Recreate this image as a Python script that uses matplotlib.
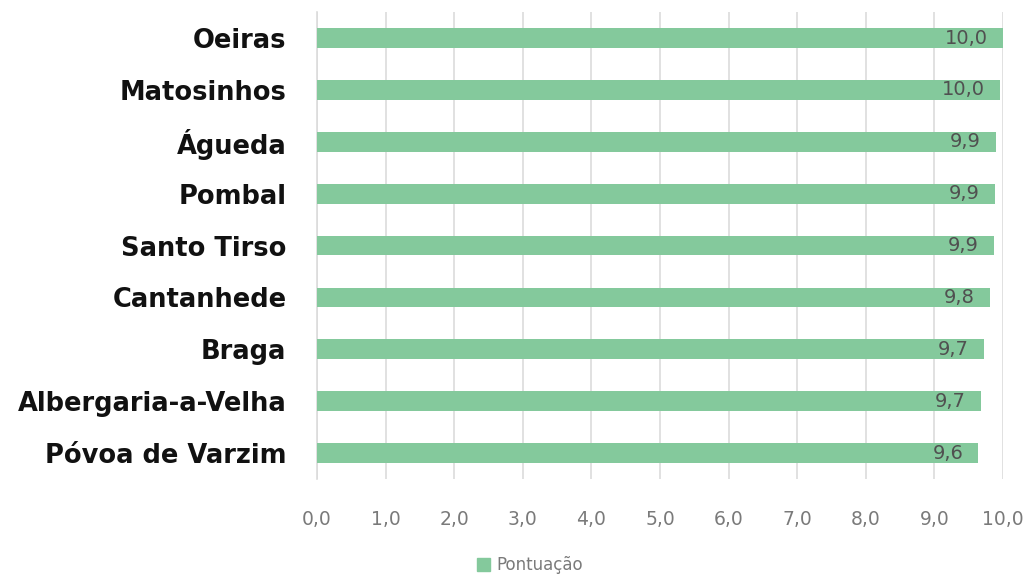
import matplotlib
matplotlib.use("Agg")
import matplotlib.pyplot as plt
from matplotlib.patches import Patch

# data
municipios = ["Oeiras", "Matosinhos", "Águeda", "Pombal", "Santo Tirso",
              "Cantanhede", "Braga", "Albergaria-a-Velha", "Póvoa de Varzim"]
pontuacao = [10.0, 9.96, 9.90, 9.88, 9.87, 9.81, 9.72, 9.68, 9.64]
ticks = [0, 1, 2, 3, 4, 5, 6, 7, 8, 9, 10]

green = "#84c99c"
grid_c = "#dcdcdc"

fig = plt.figure(figsize=(10.35, 5.75), dpi=100)
ax = fig.add_axes([0.3063, 0.167, 0.6628, 0.812])

ypos = list(range(len(municipios)))
ax.barh(ypos, pontuacao, height=0.38, color=green, zorder=3)

for y, v in zip(ypos, pontuacao):
    ax.text(v - 0.22, y, f"{v:.1f}".replace(".", ","), ha="right", va="center",
            fontsize=14, color="#505050", zorder=4)

ax.set_xlim(0, 10)
ax.set_ylim(len(municipios) - 0.5, -0.5)
ax.set_yticks(ypos)
ax.set_yticklabels(municipios, fontsize=18.5, fontweight="bold", color="#111111")
ax.set_xticks(ticks)
ax.set_xticklabels([f"{t:.1f}".replace(".", ",") for t in ticks],
                   fontsize=13.5, color="#7a7a7a")

ax.grid(axis="x", color=grid_c, linewidth=1.2, zorder=0)
for s in ["top", "right", "bottom"]:
    ax.spines[s].set_visible(False)
ax.spines["left"].set_color(grid_c)
ax.spines["left"].set_linewidth(1.2)
ax.tick_params(axis="y", length=0, pad=22)
ax.tick_params(axis="x", length=0, pad=22)

fig.legend(handles=[Patch(color=green, label="Pontuação")], loc="center",
           bbox_to_anchor=(530 / 1035, 1 - 565 / 575), frameon=False,
           fontsize=12, labelcolor="#7a7a7a", handlelength=0.8,
           handleheight=0.8, handletextpad=0.4)

plt.savefig("out.png", dpi=100)
